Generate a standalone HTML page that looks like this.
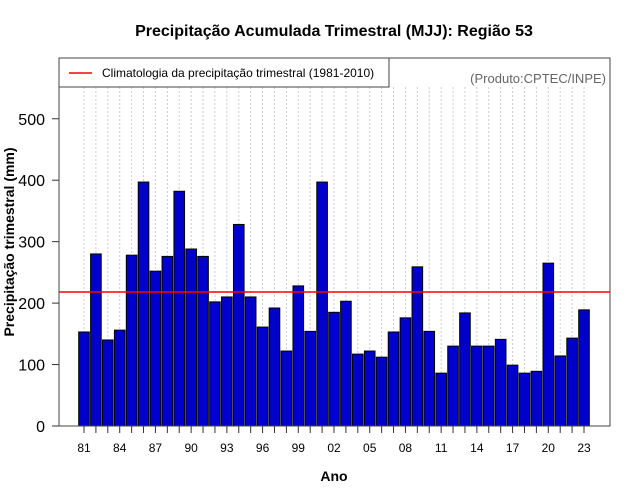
<!DOCTYPE html>
<html><head><meta charset="utf-8"><style>
body{margin:0;background:#fff}
svg{display:block;font-family:"Liberation Sans",sans-serif}
</style></head><body>
<svg id="c" width="640" height="500" viewBox="0 0 640 500">
<text x="334" y="36" text-anchor="middle" font-size="16" font-weight="bold">Precipitação Acumulada Trimestral (MJJ): Região 53</text>
<g id="grid"></g>
<g id="bars"></g>
<g id="axes"></g>
<line id="clim" stroke="#ff0000" stroke-width="1.5"/>
<rect x="59" y="58" width="551" height="368" fill="none" stroke="#444" stroke-width="1"/>
<g>
<rect x="59" y="58" width="330" height="29" fill="#fff" stroke="#444"/>
<line x1="69" y1="73" x2="92" y2="73" stroke="#ff0000" stroke-width="1.5"/>
<text x="102" y="77" font-size="12">Climatologia da precipitação trimestral (1981-2010)</text>
</g>
<text x="606" y="83" text-anchor="end" font-size="13" fill="#666">(Produto:CPTEC/INPE)</text>
<text x="334" y="481" text-anchor="middle" font-size="14" font-weight="bold">Ano</text>
<text transform="translate(14,242) rotate(-90)" text-anchor="middle" font-size="14" font-weight="bold">Precipitação trimestral (mm)</text>
</svg>
<script>
const years=[81,82,83,84,85,86,87,88,89,90,91,92,93,94,95,96,97,98,99,0,1,2,3,4,5,6,7,8,9,10,11,12,13,14,15,16,17,18,19,20,21,22,23];
const values=[153,280,140,156,278,397,252,276,382,288,276,202,210,328,210,161,192,122,228,154,397,185,203,117,122,112,153,176,259,154,86,130,184,130,130,141,99,86,89,265,114,143,189];
const yTicks=[0,100,200,300,400,500];
const climatology=218;
const NS='http://www.w3.org/2000/svg';
const x=i=>84+i*11.905;
const y=v=>426-v*0.6145;
function mk(t,a,p){const e=document.createElementNS(NS,t);for(const k in a)e.setAttribute(k,a[k]);p.appendChild(e);return e;}
const g=document.getElementById('grid'),b=document.getElementById('bars'),ax=document.getElementById('axes');
years.forEach((yr,i)=>{
 const gl=mk('line',{x1:x(i),x2:x(i),y1:87,y2:426,stroke:'#ccc','stroke-dasharray':'2,2'},g);
 
 
 const r=mk('rect',{x:x(i)-5.3,y:y(values[i]),width:10.6,height:426-y(values[i]),fill:'#0000cd',stroke:'#000','stroke-width':1},b);
 
 
 const t=mk('line',{x1:x(i),x2:x(i),y1:426,y2:433,stroke:'#333'},ax);
 
 
 if(i%3===0){const l=mk('text',{x:x(i),y:452,'text-anchor':'middle','font-size':12},ax);l.textContent=String(yr).padStart(2,'0');
 
 }
});
yTicks.forEach(v=>{
 const t=mk('line',{x1:52,x2:59,y1:y(v),y2:y(v),stroke:'#333'},ax);
 
 
 const l=mk('text',{x:45,y:y(v)+6,'text-anchor':'end','font-size':16},ax);l.textContent=v;
 
 
});
const c=document.getElementById('clim');
c.setAttribute('x1',59);c.setAttribute('x2',610);c.setAttribute('y1',y(climatology));c.setAttribute('y2',y(climatology));
</script>
</body></html>
